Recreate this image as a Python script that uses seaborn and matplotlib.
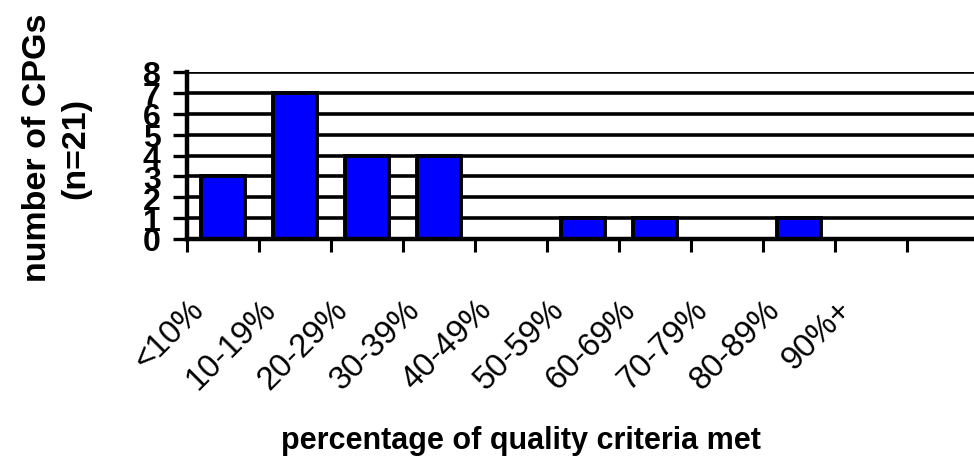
import matplotlib
matplotlib.use("Agg")
import matplotlib.pyplot as plt
import matplotlib.transforms as mtransforms
import numpy as np
import pandas as pd
import seaborn as sns

# Distribution of guideline quality scores
categories = ["<10%", "10-19%", "20-29%", "30-39%", "40-49%",
              "50-59%", "60-69%", "70-79%", "80-89%", "90%+"]
counts = [3, 7, 4, 4, 0, 1, 1, 0, 1, 0]
y_ticks = [0, 1, 2, 3, 4, 5, 6, 7, 8]

df = pd.DataFrame({"band": categories, "n": counts})

sns.set_style("white")
plt.rcParams["font.family"] = ["Liberation Sans", "DejaVu Sans"]
plt.rcParams["text.color"] = "black"
plt.rcParams["axes.labelcolor"] = "black"
plt.rcParams["xtick.color"] = "black"
plt.rcParams["ytick.color"] = "black"

fig = plt.figure(figsize=(9.74, 4.6), dpi=100)
ax = fig.add_axes([187 / 974, (460 - 240) / 460, 1 - 187 / 974, 167 / 460])

sns.barplot(data=df, x="band", y="n", color="#0000ff", saturation=1,
            edgecolor="black", linewidth=2.8, width=0.62, ax=ax, zorder=3)

ax.set_ylim(0, 8)
ax.set_xlim(-0.5, -0.5 + 787 / 72)
ax.set_yticks(y_ticks)
ax.set_yticklabels([str(v) for v in y_ticks], fontsize=23, fontweight="bold")

ax.set_axisbelow(True)
ax.yaxis.grid(True, color="black", linewidth=2.6)
ax.xaxis.grid(False)

for side in ("top", "right"):
    ax.spines[side].set_visible(False)
for side in ("left", "bottom"):
    ax.spines[side].set_color("black")
    ax.spines[side].set_linewidth(3.2)
    ax.spines[side].set_zorder(4)

ax.tick_params(axis="y", which="major", direction="out", length=10, width=2.4,
               color="black", pad=9, left=True, labelcolor="black")

# category boundaries carry the x tick marks
ax.set_xticks(np.arange(-0.5, len(categories), 1.0), minor=True)
ax.tick_params(axis="x", which="minor", direction="out", length=9, width=2.2,
               color="black", bottom=True)
ax.tick_params(axis="x", which="major", length=0, pad=47, labelcolor="black")
ax.set_xticks(range(len(categories)))
ax.set_xticklabels(categories, rotation=45, ha="right", va="center",
                   rotation_mode="anchor", fontsize=23.5)
shift = mtransforms.ScaledTranslation(-24 / 100, 0, fig.dpi_scale_trans)
for lab in ax.get_xticklabels():
    lab.set_transform(lab.get_transform() + shift)

ax.set_xlabel("")
ax.set_ylabel("")
fig.text(521 / 974, 1 - 441 / 460, "percentage of quality criteria met",
         ha="center", va="center", fontsize=22, fontweight="bold")
fig.text(57 / 974, 1 - 148 / 460, "number of CPGs\n(n=21)", rotation=90,
         ha="center", va="center", fontsize=24.5, fontweight="bold",
         linespacing=1.3, multialignment="center")

fig.savefig("out.png", dpi=100)
